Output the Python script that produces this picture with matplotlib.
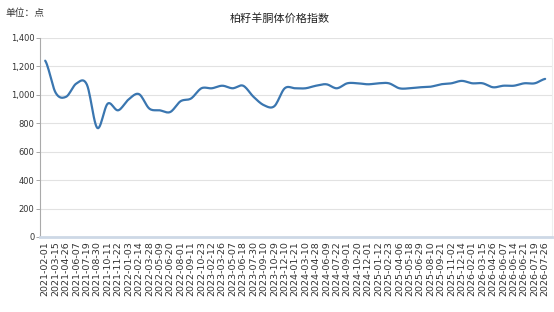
import numpy as np
import matplotlib
matplotlib.use('Agg')
import matplotlib.pyplot as plt

plt.rcParams['font.family'] = ['Noto Sans CJK SC', 'DejaVu Sans']
plt.rcParams['axes.unicode_minus'] = False

# dates shown on the x axis
dates = ['2021-02-01', '2021-03-15', '2021-04-26', '2021-06-07', '2021-07-19',
         '2021-08-30', '2021-10-11', '2021-11-22', '2022-01-03', '2022-02-14',
         '2022-03-28', '2022-05-09', '2022-06-20', '2022-08-01', '2022-09-11',
         '2022-10-23', '2023-02-12', '2023-03-26', '2023-05-07', '2023-06-18',
         '2023-07-30', '2023-09-10', '2023-10-29', '2023-12-10', '2024-01-21',
         '2024-03-10', '2024-04-28', '2024-06-09', '2024-07-22', '2024-09-01',
         '2024-10-20', '2024-12-01', '2025-01-12', '2025-02-23', '2025-04-06',
         '2025-05-18', '2025-06-29', '2025-08-10', '2025-09-21', '2025-11-02',
         '2025-12-14', '2026-02-01', '2026-03-15', '2026-04-26', '2026-06-07',
         '2026-06-14', '2026-06-21', '2026-07-19', '2026-07-26']

# index values
index_vals = [1240, 1015, 986, 1080, 1072,
              767, 938, 891, 967, 1005,
              903, 891, 879, 955, 974,
              1046, 1046, 1064, 1046, 1064,
              986, 927, 920, 1046, 1046,
              1046, 1064, 1074, 1046, 1081,
              1081, 1074, 1081, 1081, 1046,
              1046, 1053, 1057, 1074, 1081,
              1098, 1081, 1081, 1053, 1064,
              1064, 1081, 1081, 1112]

y_ticks = [0, 200, 400, 600, 800, 1000, 1200, 1400]


def smooth(x, y, n=12):
    # catmull-rom curve through the points, only for drawing
    x = np.asarray(x, float)
    y = np.asarray(y, float)
    px = np.concatenate([[2 * x[0] - x[1]], x, [2 * x[-1] - x[-2]]])
    py = np.concatenate([[y[0]], y, [y[-1]]])
    xs, ys = [], []
    t = np.linspace(0, 1, n, endpoint=False)
    for i in range(1, len(px) - 2):
        for p, out in ((px, xs), (py, ys)):
            p0, p1, p2, p3 = p[i - 1], p[i], p[i + 1], p[i + 2]
            out.extend(0.5 * (2 * p1 + (-p0 + p2) * t
                              + (2 * p0 - 5 * p1 + 4 * p2 - p3) * t ** 2
                              + (-p0 + 3 * p1 - 3 * p2 + p3) * t ** 3))
    xs.append(x[-1])
    ys.append(y[-1])
    return np.array(xs), np.array(ys)


fig = plt.figure(figsize=(5.54, 3.12), dpi=100)
ax = fig.add_axes([0.0722, 0.2404, 0.924, 0.638])

xpos = np.arange(len(dates))
sx, sy = smooth(xpos, index_vals)
ax.plot(sx, sy, color='#3a76b0', lw=1.6, solid_capstyle='round')

ax.set_xlim(-0.5, 48.65)
ax.set_ylim(0, 1400)
ax.set_yticks(y_ticks)
ax.set_yticklabels([f'{v:,}' for v in y_ticks], fontsize=6, color='#333333',
                   family='DejaVu Sans')
ax.set_xticks(xpos)
ax.set_xticklabels(dates, rotation=90, fontsize=6.8, color='#333333',
                   family='DejaVu Sans')
ax.tick_params(axis='x', length=0, pad=3)
ax.tick_params(axis='y', length=3, width=0.6, color='#999999', pad=1)

ax.grid(axis='y', color='#e2e2e2', lw=0.8)
ax.set_axisbelow(True)
ax.spines['top'].set_visible(False)
ax.spines['right'].set_color('#eeeeee')
ax.spines['left'].set_color('#aaaaaa')
ax.spines['left'].set_linewidth(0.8)
ax.spines['bottom'].set_color('#cdd8e6')
ax.spines['bottom'].set_linewidth(2)

fig.text(0.505, 0.94, '柏籽羊胴体价格指数', ha='center', va='center',
         fontsize=8, color='#222222')
fig.text(0.01, 0.958, '单位：点', ha='left', va='center', fontsize=7,
         color='#333333')

fig.savefig('out.png', dpi=100, facecolor='white')
